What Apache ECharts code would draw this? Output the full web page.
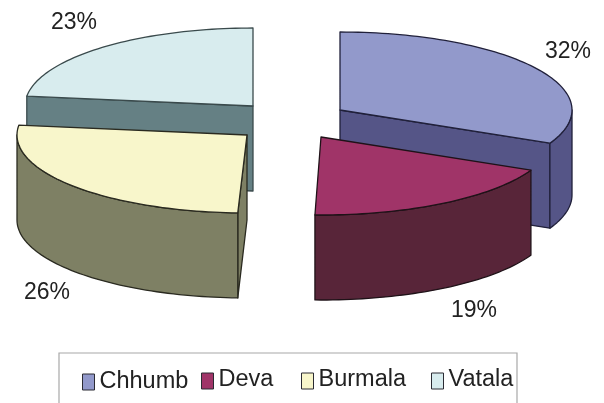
<!DOCTYPE html>
<html>
<head>
<meta charset="utf-8">
<style>html,body{margin:0;padding:0;background:#fff}#c{width:604px;height:403px}</style>
<script src="https://cdn.jsdelivr.net/npm/echarts@6/dist/echarts.min.js"></script>
</head>
<body>
<div id="c"></div>
<script>
// --- data ---
var categories = ['Chhumb', 'Deva', 'Burmala', 'Vatala'];
var shares = [32, 19, 26, 23];

// --- styling and layout ---
var topColors = ['#9299CB', '#A03468', '#F8F6CB', '#D8ECEE'];
var sideColors = ['#555587', '#582539', '#7E8064', '#658084'];
var edgeColors = ['#20203a', '#1f1218', '#2a2a20', '#3a4a4c'];
var centres = [[340, 110], [321, 137], [247, 135], [253, 106]];
var radiiX = [232, 232, 230, 228];
var angleNudges = [[0, 0], [0, -2.1], [-1.3, 0], [0, 0]];
var labelSpots = [[568, 52], [474, 311], [47, 293], [74, 23]];
var drawOrder = [1, 2, 4, 3];
var legendSpots = [[82, 370], [201, 367.5], [301, 367.5], [431, 367.5]];
var legendTextPads = [[0, 0, 0, 0], [0, 0, 3, 0], [0, 0, 3, 0], [0, 0, 3, 0]];
var RY = 78, DEPTH = 85, FONT = '"Liberation Sans", Arial, sans-serif';

var total = shares.reduce(function (a, b) { return a + b; }, 0);
var starts = shares.map(function (v, i) {
  return shares.slice(0, i).reduce(function (a, b) { return a + b; }, 0);
});

function rimPoint(c, rx, deg, drop) {
  var t = deg * Math.PI / 180;
  return [c[0] + rx * Math.sin(t), c[1] - RY * Math.cos(t) + (drop || 0)];
}
function arc(c, rx, a, b, drop) {
  var pts = [], n = Math.max(2, Math.ceil((b - a) / 1.5));
  for (var k = 0; k <= n; k++) pts.push(rimPoint(c, rx, a + (b - a) * k / n, drop));
  return pts;
}
function poly(points, fill, stroke) {
  return { type: 'polygon', shape: { points: points }, style: { fill: fill, stroke: stroke, lineWidth: 1.3, lineJoin: 'round' } };
}
function sliceItem(i) {
  return function (params, api) {
    var value = api.value(0);
    var a = starts[i] / total * 360 + angleNudges[i][0];
    var b = (starts[i] + value) / total * 360 + angleNudges[i][1];
    var c = centres[i], rx = radiiX[i], kids = [];
    var fill = sideColors[i], stroke = edgeColors[i];
    function flat(deg) {
      var p = rimPoint(c, rx, deg);
      kids.push(poly([c, p, [p[0], p[1] + DEPTH], [c[0], c[1] + DEPTH]], fill, stroke));
    }
    if (Math.cos((a - 90) * Math.PI / 180) < -1e-6) flat(a);
    if (Math.cos((b + 90) * Math.PI / 180) < -1e-6) flat(b);
    var lo = Math.max(a, 90), hi = Math.min(b, 270);
    if (hi > lo) {
      kids.push(poly(arc(c, rx, lo, hi, 0).concat(arc(c, rx, lo, hi, DEPTH).reverse()), fill, stroke));
    }
    kids.push(poly([c].concat(arc(c, rx, a, b, 0)), topColors[i], stroke));
    kids.push({
      type: 'text', z2: 20,
      style: { x: labelSpots[i][0], y: labelSpots[i][1], text: value + '%', fill: '#222', font: '23px ' + FONT, align: 'center', verticalAlign: 'middle' }
    });
    return { type: 'group', children: kids };
  };
}

var chart = echarts.init(document.getElementById('c'), null, { renderer: 'canvas' });
chart.setOption({
  backgroundColor: '#fff',
  animation: false,
  legend: categories.map(function (name, i) {
    return {
      data: [name], left: legendSpots[i][0], top: legendSpots[i][1], padding: 0,
      selectedMode: false, icon: 'rect', itemWidth: 12, itemHeight: 16, itemGap: 0,
      itemStyle: { color: topColors[i], borderColor: '#2b2b33', borderWidth: 1 },
      formatter: '{t|{name}}',
      textStyle: {
        rich: { t: { fontFamily: 'Liberation Sans', fontSize: 23.5, color: '#222', padding: legendTextPads[i] } }
      }
    };
  }),
  graphic: [{
    type: 'polyline', silent: true,
    shape: { points: [[59, 403], [59, 353], [517, 353], [517, 403]] },
    style: { stroke: '#a8a8a8', lineWidth: 1.2, fill: null }
  }],
  series: categories.map(function (name, i) {
    return {
      type: 'custom', name: name, coordinateSystem: 'none', z: drawOrder[i],
      itemStyle: { color: topColors[i] }, silent: true,
      renderItem: sliceItem(i),
      data: [[shares[i]]]
    };
  })
});
</script>
</body>
</html>
